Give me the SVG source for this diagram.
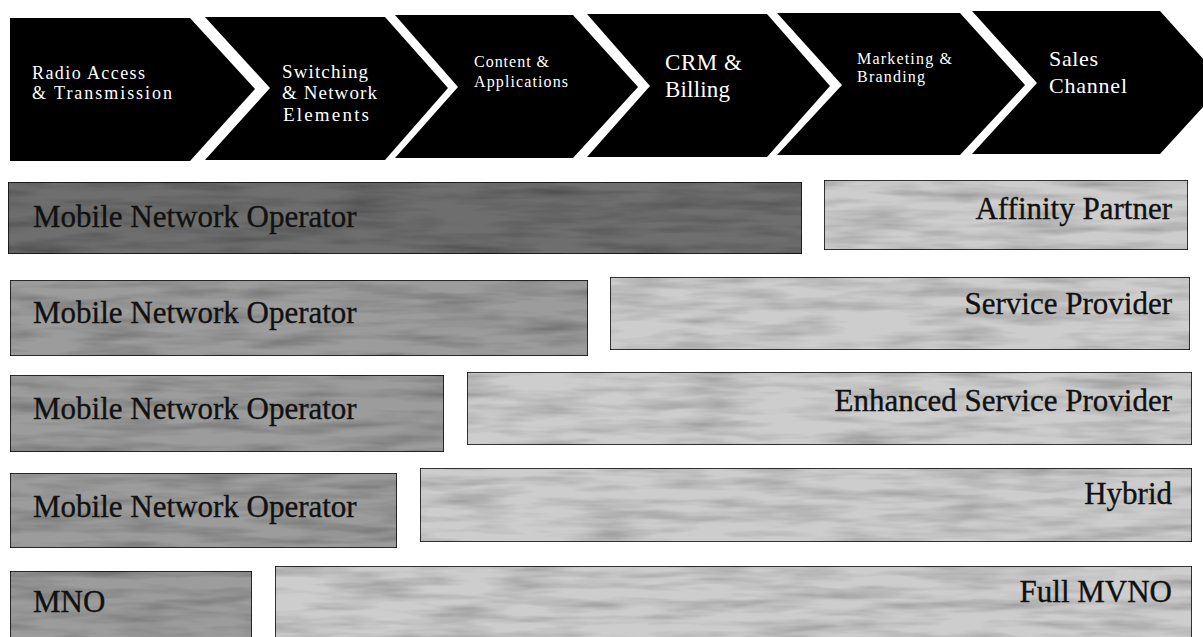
<svg xmlns="http://www.w3.org/2000/svg" width="1203" height="637" viewBox="0 0 1203 637">
  <style>
    .chev { fill: #000; }
    .ct { fill: #fff; font-family: "Liberation Serif", "Times New Roman", serif; }
    .bar { stroke: #111; stroke-width: 1.6; }
    .mno1 { fill: #6e6e6e; }
    .mno { fill: #9c9c9c; }
    .lite { fill: #cdcdcd; }
    .bt { fill: #111; stroke: #111; stroke-width: 0.35; font-family: "Liberation Serif", "Times New Roman", serif; font-size: 31px; }
    .end { text-anchor: end; }
  </style>
  <defs>
    <filter id="grain" x="0" y="0" width="100%" height="100%">
      <feTurbulence type="fractalNoise" baseFrequency="0.012 0.09" numOctaves="3" seed="4" result="n"/>
      <feColorMatrix in="n" type="matrix" values="0 0 0 0 0  0 0 0 0 0  0 0 0 0 0  0 0 0 -0.9 0.55" result="a"/>
      <feComposite in="a" in2="SourceGraphic" operator="in" result="m"/>
      <feMerge><feMergeNode in="SourceGraphic"/><feMergeNode in="m"/></feMerge>
    </filter>
  </defs>
  <rect width="1203" height="637" fill="#fff"/>

  <g id="chevron-radio">
    <polygon class="chev" points="10,18 190,18 255,89 190,161 10,161"/>
    <text class="ct" x="32" y="79" font-size="18" textLength="113" lengthAdjust="spacing">Radio Access</text>
    <text class="ct" x="32" y="99" font-size="18" textLength="140" lengthAdjust="spacing">&amp; Transmission</text>
  </g>
  <g id="chevron-switching">
    <polygon class="chev" points="205,17 385,17 448,88 385,160 205,160 270,88"/>
    <text class="ct" x="282" y="78" font-size="19" textLength="86" lengthAdjust="spacing">Switching</text>
    <text class="ct" x="282" y="99" font-size="19" textLength="95" lengthAdjust="spacing">&amp; Network</text>
    <text class="ct" x="283" y="121" font-size="19" textLength="86" lengthAdjust="spacing">Elements</text>
  </g>
  <g id="chevron-content">
    <polygon class="chev" points="395,15 573,15 638,87 573,158 395,158 458,87"/>
    <text class="ct" x="474" y="67" font-size="16" textLength="75" lengthAdjust="spacing">Content &amp;</text>
    <text class="ct" x="474" y="87" font-size="16" textLength="94" lengthAdjust="spacing">Applications</text>
  </g>
  <g id="chevron-crm">
    <polygon class="chev" points="587,14 767,14 830,86 767,157 587,157 650,86"/>
    <text class="ct" x="665" y="70" font-size="23" textLength="77" lengthAdjust="spacing">CRM &amp;</text>
    <text class="ct" x="665" y="97" font-size="23" textLength="65" lengthAdjust="spacing">Billing</text>
  </g>
  <g id="chevron-marketing">
    <polygon class="chev" points="777,13 960,13 1025,85 960,155 777,155 842,85"/>
    <text class="ct" x="857" y="64" font-size="16" textLength="95" lengthAdjust="spacing">Marketing &amp;</text>
    <text class="ct" x="857" y="82" font-size="16" textLength="68" lengthAdjust="spacing">Branding</text>
  </g>
  <g id="chevron-sales">
    <polygon class="chev" points="972,11 1160,11 1225,83 1160,154 972,154 1037,83"/>
    <text class="ct" x="1049" y="66" font-size="22" textLength="49" lengthAdjust="spacing">Sales</text>
    <text class="ct" x="1049" y="93" font-size="22" textLength="78" lengthAdjust="spacing">Channel</text>
  </g>

  <g id="row1-mno">
    <rect class="bar mno1" x="8" y="182" width="794" height="72" filter="url(#grain)"/>
    <text class="bt" x="33" y="227">Mobile Network Operator</text>
  </g>
  <g id="row1-affinity">
    <rect class="bar lite" x="824" y="180" width="364" height="70" filter="url(#grain)"/>
    <text class="bt end" x="1172" y="219">Affinity Partner</text>
  </g>

  <g id="row2-mno">
    <rect class="bar mno" x="10" y="280" width="578" height="76" filter="url(#grain)"/>
    <text class="bt" x="33" y="323">Mobile Network Operator</text>
  </g>
  <g id="row2-sp">
    <rect class="bar lite" x="610" y="277" width="580" height="73" filter="url(#grain)"/>
    <text class="bt end" x="1172" y="314">Service Provider</text>
  </g>

  <g id="row3-mno">
    <rect class="bar mno" x="10" y="375" width="434" height="77" filter="url(#grain)"/>
    <text class="bt" x="33" y="419">Mobile Network Operator</text>
  </g>
  <g id="row3-esp">
    <rect class="bar lite" x="467" y="372" width="725" height="73" filter="url(#grain)"/>
    <text class="bt end" x="1172" y="411">Enhanced Service Provider</text>
  </g>

  <g id="row4-mno">
    <rect class="bar mno" x="10" y="473" width="387" height="75" filter="url(#grain)"/>
    <text class="bt" x="33" y="517">Mobile Network Operator</text>
  </g>
  <g id="row4-hybrid">
    <rect class="bar lite" x="420" y="468" width="772" height="74" filter="url(#grain)"/>
    <text class="bt end" x="1172" y="504">Hybrid</text>
  </g>

  <g id="row5-mno">
    <rect class="bar mno" x="10" y="571" width="242" height="72" filter="url(#grain)"/>
    <text class="bt" x="33" y="612">MNO</text>
  </g>
  <g id="row5-full">
    <rect class="bar lite" x="275" y="566" width="917" height="77" filter="url(#grain)"/>
    <text class="bt end" x="1172" y="602">Full MVNO</text>
  </g>

  <g id="connectors"/>
</svg>
